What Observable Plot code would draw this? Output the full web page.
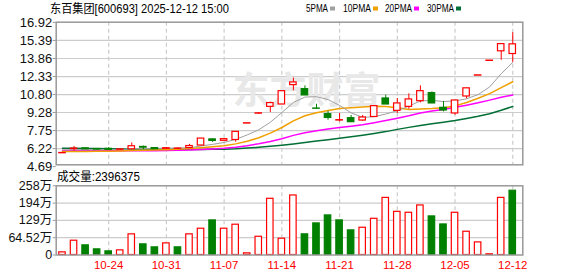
<!DOCTYPE html>
<html><head><meta charset="utf-8">
<script src="https://cdn.jsdelivr.net/npm/d3@7"></script>
<script src="https://cdn.jsdelivr.net/npm/@observablehq/plot@0.6"></script>
<style>
html,body{margin:0;padding:0;background:#fff;}
#wrap{position:relative;width:578px;height:276px;overflow:hidden;background:#fff;}
#wrap > svg{position:absolute;left:0;}
</style></head><body><div id="wrap"></div>
<script>
const dates = ["10-20","10-21","10-22","10-23","10-24","10-27","10-28","10-29","10-30","10-31",
  "11-03","11-04","11-05","11-06","11-07","11-10","11-11","11-12","11-13","11-14",
  "11-17","11-18","11-19","11-20","11-21","11-24","11-25","11-26","11-27","11-28",
  "12-01","12-02","12-03","12-04","12-05","12-08","12-09","12-10","12-11","12-12"];
const open  = [5.88,6.18,6.24,6.18,6.20,6.12,6.16,6.36,6.26,6.20, 6.20,6.27,6.48,7.00,6.88,6.95,8.40,9.24,9.76,9.96,
  11.60,11.26,9.62,9.14,8.60,8.80,8.60,8.90,10.47,9.42, 9.76,10.24,10.92,9.68,9.20,10.64,12.46,13.71,14.47,14.24];
const high  = [5.88,6.40,6.26,6.20,6.30,6.18,6.70,6.44,6.30,6.32, 6.30,6.58,7.07,7.04,7.08,7.64,8.40,9.24,10.16,11.09,
  12.20,11.54,9.98,9.39,9.20,9.03,9.03,9.82,10.75,10.47, 10.86,11.54,11.03,10.21,10.30,11.33,12.46,13.71,15.08,16.05];
const low   = [5.88,6.02,6.14,6.12,6.10,6.10,6.15,6.14,6.15,6.18, 6.15,6.25,6.45,6.75,6.82,6.76,8.40,9.12,9.28,9.96,
  11.12,10.72,9.58,8.63,8.48,8.45,8.52,8.88,9.95,9.20, 9.56,10.10,10.04,9.33,9.05,10.44,12.46,13.71,13.71,13.53];
const close = [5.88,6.22,6.16,6.14,6.12,6.15,6.42,6.30,6.18,6.25, 6.22,6.44,7.07,6.87,7.02,7.64,8.40,9.24,10.08,11.09,
  11.83,10.73,9.60,8.82,8.63,8.46,8.86,9.82,9.96,10.05, 10.39,11.09,10.05,9.45,10.30,11.33,12.46,13.71,15.08,15.06];
const volume = [9.9,53.3,36,21,13.6,17.4,77,39.7,28.5,43.4, 28.5,77,98,129,98,113,6.2,68,209.6,60.8,
  222,77,117.8,147.6,129,91.8,101.7,135,213,161, 157.5,184.8,143.9,114,157.5,86.8,47,2.5,213,239.64];
const ma5  = [6.10,6.12,6.12,6.13,6.14,6.17,6.21,6.23,6.24,6.26, 6.27,6.30,6.44,6.58,6.74,7.00,7.38,7.82,8.45,9.28,
  10.13,10.59,10.62,10.38,9.88,9.25,8.87,8.92,9.15,9.43, 9.82,10.26,10.31,10.21,10.26,10.44,10.80,11.45,12.57,13.53];
const ma10 = [5.97,5.97,5.98,5.99,6.00,6.02,6.05,6.08,6.10,6.13, 6.16,6.22,6.30,6.38,6.47,6.62,6.84,7.14,7.53,8.01,
  8.57,9.00,9.26,9.45,9.61,9.69,9.74,9.80,9.79,9.68, 9.54,9.57,9.61,9.68,9.84,10.13,10.49,10.88,11.39,11.89];
const ma20 = [6.05,6.05,6.05,6.04,6.04,6.03,6.03,6.03,6.04,6.05, 6.07,6.10,6.14,6.19,6.25,6.34,6.47,6.63,6.83,7.06,
  7.34,7.57,7.74,7.88,8.00,8.12,8.25,8.42,8.60,8.80, 9.00,9.24,9.40,9.54,9.72,9.90,10.10,10.33,10.57,10.77];
const ma30 = [6.25,6.24,6.23,6.22,6.21,6.20,6.19,6.18,6.17,6.16, 6.15,6.15,6.15,6.16,6.17,6.20,6.26,6.33,6.41,6.50,
  6.61,6.73,6.86,6.98,7.10,7.22,7.35,7.50,7.66,7.85, 8.02,8.18,8.33,8.46,8.60,8.78,8.96,9.18,9.47,9.79];
const tickLabels = ["10-24","10-31","11-07","11-14","11-21","11-28","12-05","12-12"];
const priceTicks = [16.92,15.39,13.86,12.33,10.80,9.28,7.75,6.22,4.69];
const volTicks = [0,64.52,129.04,193.56,258.08];
const volTickLabels = ["0","64.52万","129万","194万","258万"];
const title = "东百集团[600693] 2025-12-12 15:00";
const volTitle = "成交量:2396375";
const maNames = ["5PMA","10PMA","20PMA","30PMA"];
const watermark = "东方财富";

const RED = "#ff0000", GREEN = "#008000", GRID = "#cccccc", FRAME = "#999999";
const maColors = ["#a0a0a0","#f0a000","#ff00ff","#006f35"];
const rows = dates.map((d, i) => ({i, o: open[i], h: high[i], l: low[i], c: close[i], v: volume[i]}));
const candleUp = d => d.c > d.o ? true : d.c < d.o ? false : (d.i === 0 || d.c >= close[d.i - 1]);
const volUp = d => d.i === 0 ? candleUp(d) : d.c >= close[d.i - 1];
const tickIdx = tickLabels.map(t => dates.indexOf(t));
const xDomain = [-0.545, 39.87];
const hw = 0.28;
const font = "Liberation Sans, Arial, sans-serif";

const wrap = document.getElementById("wrap");

const flat = rows.filter(d => Math.abs(d.o - d.c) < 0.005);
const body = rows.filter(d => Math.abs(d.o - d.c) >= 0.005);

const price = Plot.plot({
  width: 578, height: 178,
  marginLeft: 55.7, marginRight: 55.7, marginTop: 21.7, marginBottom: 13.7,
  x: {type: "linear", domain: xDomain, axis: null},
  y: {domain: [4.846, 16.937], axis: null},
  style: {fontFamily: font, background: "transparent"},
  marks: [
    Plot.ruleY(priceTicks.slice(1, -1), {stroke: GRID, strokeWidth: 1.2}),
    Plot.ruleX(tickIdx, {stroke: GRID, strokeDasharray: "4,3", strokeWidth: 1.2}),
    Plot.text([watermark], {frameAnchor: "middle", dx: 17, dy: -1, fontSize: 37, fontWeight: "bold",
      fill: "#e8e8e8", fontFamily: "Noto Sans CJK SC"}),
    Plot.axisY(priceTicks, {anchor: "left", label: null, tickSize: 3, tickPadding: 1, tickFormat: d => d.toFixed(2),
      fontSize: 13, fill: "#111", stroke: FRAME}),
    Plot.lineY(ma30, {stroke: maColors[3], strokeWidth: 1.5}),
    Plot.lineY(ma20, {stroke: maColors[2], strokeWidth: 1.5}),
    Plot.lineY(ma10, {stroke: maColors[1], strokeWidth: 1.5}),
    Plot.lineY(ma5, {stroke: maColors[0], strokeWidth: 1}),
    Plot.ruleX(rows, {x: "i", y1: "l", y2: "h", stroke: d => candleUp(d) ? RED : GREEN, strokeWidth: 1}),
    Plot.rect(body, {x1: d => d.i - hw, x2: d => d.i + hw, y1: d => Math.min(d.o, d.c), y2: d => Math.max(d.o, d.c),
      fill: d => candleUp(d) ? "#fff" : GREEN, stroke: d => candleUp(d) ? RED : GREEN, strokeWidth: 1.2}),
    Plot.ruleY(flat, {x1: d => d.i - hw - 0.05, x2: d => d.i + hw + 0.05, y: "c",
      stroke: d => candleUp(d) ? RED : GREEN, strokeWidth: 1.5}),
    Plot.frame({stroke: FRAME, strokeWidth: 1.5})
  ]
});
price.style.top = "0px";
wrap.appendChild(price);

const vol = Plot.plot({
  width: 578, height: 106,
  marginLeft: 55.7, marginRight: 55.7, marginTop: 15.3, marginBottom: 21.5,
  x: {type: "linear", domain: xDomain, axis: null},
  y: {domain: [0, 258.08], axis: null},
  style: {fontFamily: font, background: "transparent"},
  marks: [
    Plot.ruleY(volTicks.slice(1, -1), {stroke: GRID, strokeWidth: 1.2}),
    Plot.ruleX(tickIdx, {stroke: GRID, strokeDasharray: "4,3", strokeWidth: 1.2}),
    Plot.axisY(volTicks, {anchor: "left", label: null, tickSize: 3, tickPadding: 1,
      tickFormat: d => volTickLabels[volTicks.indexOf(d)], fontSize: 12.5, fill: "#111", stroke: FRAME,
      fontFamily: "Liberation Sans, Noto Sans CJK SC"}),
    Plot.axisX(tickIdx, {anchor: "bottom", label: null, tickSize: 0, tickPadding: 6, tickFormat: i => dates[i],
      fontSize: 11.5, fill: RED}),
    Plot.rect(rows, {x1: d => d.i - hw, x2: d => d.i + hw, y1: 0, y2: "v",
      fill: d => volUp(d) ? "#fff" : GREEN, stroke: d => volUp(d) ? RED : GREEN, strokeWidth: 1.2}),
    Plot.frame({stroke: FRAME, strokeWidth: 1.5})
  ]
});
vol.style.top = "170px";
wrap.appendChild(vol);

// header overlay: title, legend, volume title
const ov = d3.select(wrap).append("svg").attr("width", 578).attr("height", 276)
  .style("top", "0px").style("pointer-events", "none");
ov.append("text").attr("x", 50).attr("y", 13).attr("font-size", 12)
  .attr("font-family", "Liberation Sans, Noto Sans CJK SC").attr("fill", "#000")
  .attr("textLength", 179).attr("lengthAdjust", "spacingAndGlyphs").text(title);
const legX = [306, 343, 385, 427], legW = [22, 28, 27, 27];
maNames.forEach((n, k) => {
  ov.append("text").attr("x", legX[k]).attr("y", 12.3).attr("font-size", 10)
    .attr("font-family", "Liberation Sans").attr("fill", "#000")
    .attr("textLength", legW[k]).attr("lengthAdjust", "spacingAndGlyphs").text(n);
  ov.append("rect").attr("x", legX[k] + legW[k] + 2).attr("y", 6.5).attr("width", 5).attr("height", 4)
    .attr("fill", maColors[k]);
});
ov.append("text").attr("x", 57).attr("y", 181).attr("font-size", 12)
  .attr("font-family", "Liberation Sans, Noto Sans CJK SC").attr("fill", "#000")
  .attr("textLength", 83).attr("lengthAdjust", "spacingAndGlyphs").text(volTitle);
</script></body></html>
